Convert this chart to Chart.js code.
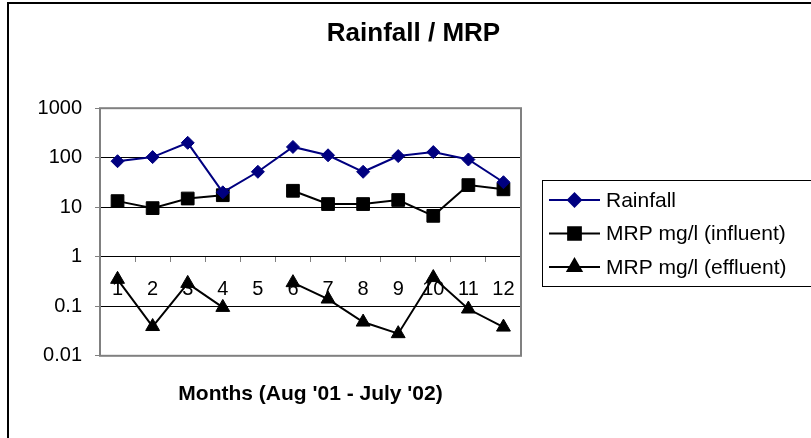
<!DOCTYPE html>
<html>
<head>
<meta charset="utf-8">
<script src="https://cdn.jsdelivr.net/npm/chart.js@4/dist/chart.umd.min.js"></script>
<style>
  html, body { margin: 0; padding: 0; background: #fff; }
  #wrap { width: 811px; height: 438px; }
</style>
</head>
<body>
<div id="wrap"><canvas id="chart" width="811" height="438"></canvas></div>
<script>
// values
const months = ['1', '2', '3', '4', '5', '6', '7', '8', '9', '10', '11', '12'];
const rainfall = [85, 103, 200, 20, 52, 165, 112, 52, 108, 130, 92, 32];
const influent = [13.3, 9.6, 15, 17.5, null, 21.5, 11.6, 11.6, 14, 6.7, 28, 23];
const effluent = [0.35, 0.039, 0.29, 0.095, null, 0.3, 0.14, 0.048, 0.028, 0.38, 0.088, 0.038];
const yTicks = [0.01, 0.1, 1, 10, 100, 1000];

const FONT = 'Arial, "Liberation Sans", sans-serif';

// white page, outer chart frame and grey plot border
const framePlugin = {
    id: 'frame',
    beforeDraw(chart) {
        const ctx = chart.ctx;
        ctx.save();
        ctx.fillStyle = '#fff';
        ctx.fillRect(0, 0, chart.width, chart.height);
        ctx.strokeStyle = '#000';
        ctx.lineWidth = 2;
        ctx.beginPath();
        ctx.moveTo(8, chart.height + 2);
        ctx.lineTo(8, 3);
        ctx.lineTo(chart.width + 2, 3);
        ctx.stroke();
        ctx.restore();
    },
    beforeDatasetsDraw(chart) {
        const a = chart.chartArea;
        const ctx = chart.ctx;
        ctx.save();
        ctx.strokeStyle = '#808080';
        ctx.lineWidth = 2;
        ctx.strokeRect(a.left, a.top, a.right - a.left, a.bottom - a.top);
        ctx.restore();
    }
};

// legend with a line through each marker, like the original
const lineLegend = {
    id: 'lineLegend',
    afterDraw(chart) {
        const ctx = chart.ctx;
        const box = { x: 542, y: 180, w: 280, h: 106 };
        ctx.save();
        ctx.strokeStyle = '#000';
        ctx.lineWidth = 1;
        ctx.strokeRect(box.x + 0.5, box.y + 0.5, box.w, box.h);
        ctx.font = '21px ' + FONT;
        ctx.textBaseline = 'middle';
        chart.data.datasets.forEach((ds, i) => {
            const y = 200 + i * 33.5;
            ctx.strokeStyle = ds.borderColor;
            ctx.lineWidth = 2;
            ctx.beginPath();
            ctx.moveTo(549, y);
            ctx.lineTo(600, y);
            ctx.stroke();
            ctx.fillStyle = ds.pointBackgroundColor;
            ctx.strokeStyle = ds.pointBorderColor;
            Chart.helpers.drawPoint(ctx, {
                pointStyle: ds.pointStyle,
                radius: ds.pointRadius,
                rotation: 0,
                borderWidth: 1
            }, 574.5, y);
            ctx.fillStyle = '#000';
            ctx.fillText(ds.label, 606, y + 1);
        });
        ctx.restore();
    }
};

new Chart(document.getElementById('chart'), {
    type: 'line',
    data: {
        labels: months,
        datasets: [{
            label: 'Rainfall',
            data: rainfall,
            borderColor: '#000080',
            borderWidth: 2,
            pointStyle: 'rectRot',
            pointRadius: 6.5,
            pointBackgroundColor: '#000080',
            pointBorderColor: '#000080',
            pointBorderWidth: 1
        }, {
            label: 'MRP mg/l (influent)',
            data: influent,
            borderColor: '#000',
            borderWidth: 2,
            pointStyle: 'rect',
            pointRadius: 9,
            pointBackgroundColor: '#000',
            pointBorderColor: '#000',
            pointBorderWidth: 1
        }, {
            label: 'MRP mg/l (effluent)',
            data: effluent,
            borderColor: '#000',
            borderWidth: 2,
            pointStyle: 'triangle',
            pointRadius: 8,
            pointBackgroundColor: '#000',
            pointBorderColor: '#000',
            pointBorderWidth: 1
        }]
    },
    options: {
        responsive: false,
        animation: false,
        spanGaps: false,
        layout: { padding: { left: 16, right: 0, top: 3, bottom: 0 } },
        plugins: {
            legend: { display: false },
            tooltip: { enabled: false },
            title: {
                display: true,
                text: 'Rainfall / MRP',
                color: '#000',
                font: { family: FONT, size: 26, weight: 'bold' },
                padding: { top: 15, bottom: 59 }
            }
        },
        scales: {
            x: {
                type: 'category',
                position: { y: 1 },
                offset: true,
                grid: {
                    drawOnChartArea: false,
                    drawTicks: true,
                    tickLength: 5,
                    tickColor: '#808080',
                    offset: true
                },
                border: { display: true, color: '#000', width: 1 },
                ticks: {
                    color: '#000',
                    font: { family: FONT, size: 20 },
                    padding: 16,
                    autoSkip: false,
                    maxRotation: 0
                }
            },
            x2: {
                type: 'category',
                position: 'bottom',
                offset: true,
                grid: { display: false, drawTicks: false },
                border: { display: false },
                ticks: { display: false },
                title: {
                    display: true,
                    text: "Months (Aug '01 - July '02)",
                    color: '#000',
                    font: { family: FONT, size: 21, weight: 'bold' },
                    padding: { top: 26, bottom: 31 }
                }
            },
            y: {
                type: 'logarithmic',
                position: 'left',
                min: 0.01,
                max: 1000,
                afterBuildTicks: s => { s.ticks = yTicks.map(v => ({ value: v })); },
                afterFit: s => { s.width = 84; },
                grid: {
                    color: '#000',
                    lineWidth: 1,
                    tickLength: 5,
                    tickColor: '#808080'
                },
                border: { display: false },
                ticks: {
                    color: '#000',
                    font: { family: FONT, size: 20 },
                    padding: 13,
                    callback: v => String(v)
                }
            },
            yR: {
                type: 'linear',
                position: 'right',
                min: 0,
                max: 1,
                grid: { display: false, drawTicks: false },
                border: { display: false },
                ticks: { display: false },
                afterFit: s => { s.width = 290; }
            }
        }
    },
    plugins: [framePlugin, lineLegend]
});
</script>
</body>
</html>
